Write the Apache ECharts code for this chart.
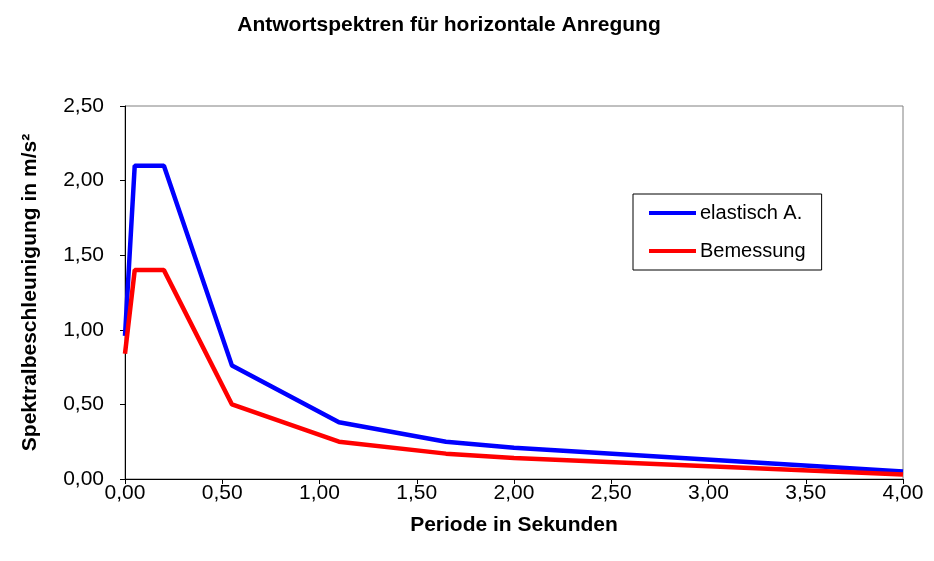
<!DOCTYPE html>
<html>
<head>
<meta charset="utf-8">
<script src="https://cdn.jsdelivr.net/npm/echarts@6/dist/echarts.min.js"></script>
<style>
  html, body { margin: 0; padding: 0; background: #fff; }
  #chart { width: 934px; height: 561px; }
</style>
</head>
<body>
<div id="chart"></div>
<script>
// Periods (s) and spectral accelerations (m/s²)
const periods   = [0.00, 0.05, 0.20, 0.55, 1.10, 1.65, 2.00, 4.00];
const elastisch = [0.96, 2.10, 2.10, 0.76, 0.38, 0.25, 0.21, 0.05];
const bemessung = [0.84, 1.40, 1.40, 0.50, 0.25, 0.17, 0.14, 0.03];

const xTicks = { min: 0, max: 4, step: 0.5 };
const yTicks = { min: 0, max: 2.5, step: 0.5 };

const FONT = '"Liberation Sans", Arial, sans-serif';
const fmt = v => v.toFixed(2).replace('.', ',');
const pairs = ys => periods.map((t, i) => [t, ys[i]]);

const chart = echarts.init(document.getElementById('chart'), null, { renderer: 'canvas' });

chart.setOption({
  animation: false,
  backgroundColor: '#ffffff',
  textStyle: { fontFamily: FONT, color: '#000' },
  title: {
    text: 'Antwortspektren für horizontale Anregung',
    left: 444,
    top: 10,
    textAlign: 'center',
    textStyle: { fontFamily: FONT, fontSize: 21, fontWeight: 'bold', color: '#000' }
  },
  grid: {
    left: 125, right: 31, top: 106, bottom: 82,
    show: true, borderColor: '#808080', borderWidth: 1, backgroundColor: '#fff'
  },
  legend: {
    orient: 'vertical',
    left: 633, top: 194,
    padding: [9, 16, 9, 16],
    itemGap: 18,
    itemWidth: 47, itemHeight: 4,
    icon: 'rect',
    borderColor: '#000', borderWidth: 1,
    textStyle: { fontFamily: FONT, fontSize: 20, color: '#000', padding: [0, 0, 0, -1] },
    data: ['elastisch A.', 'Bemessung']
  },
  xAxis: {
    type: 'value',
    min: xTicks.min, max: xTicks.max, interval: xTicks.step,
    name: 'Periode in Sekunden',
    nameLocation: 'middle',
    nameGap: 36,
    nameTextStyle: { fontFamily: FONT, fontSize: 21, fontWeight: 'bold', color: '#000' },
    axisLine: { show: true, onZero: false, lineStyle: { color: '#000', width: 1 } },
    axisTick: { show: true, inside: false, length: 5, lineStyle: { color: '#000' } },
    axisLabel: { fontFamily: FONT, fontSize: 21, color: '#000', margin: 4, formatter: fmt },
    splitLine: { show: false }
  },
  yAxis: {
    type: 'value',
    min: yTicks.min, max: yTicks.max, interval: yTicks.step,
    name: 'Spektralbeschleunigung in m/s²',
    nameLocation: 'middle',
    nameGap: 84,
    nameTextStyle: { fontFamily: FONT, fontSize: 21, fontWeight: 'bold', color: '#000' },
    axisLine: { show: true, lineStyle: { color: '#000', width: 1 } },
    axisTick: { show: true, inside: false, length: 5, lineStyle: { color: '#000' } },
    axisLabel: { fontFamily: FONT, fontSize: 21, color: '#000', margin: 21, formatter: fmt },
    splitLine: { show: false }
  },
  series: [
    {
      name: 'elastisch A.',
      type: 'line',
      data: pairs(elastisch),
      showSymbol: false,
      symbol: 'none',
      color: '#0000ff',
      lineStyle: { color: '#0000ff', width: 4.5 },
      z: 2
    },
    {
      name: 'Bemessung',
      type: 'line',
      data: pairs(bemessung),
      showSymbol: false,
      symbol: 'none',
      color: '#ff0000',
      lineStyle: { color: '#ff0000', width: 4.5 },
      z: 3
    }
  ]
});
</script>
</body>
</html>
